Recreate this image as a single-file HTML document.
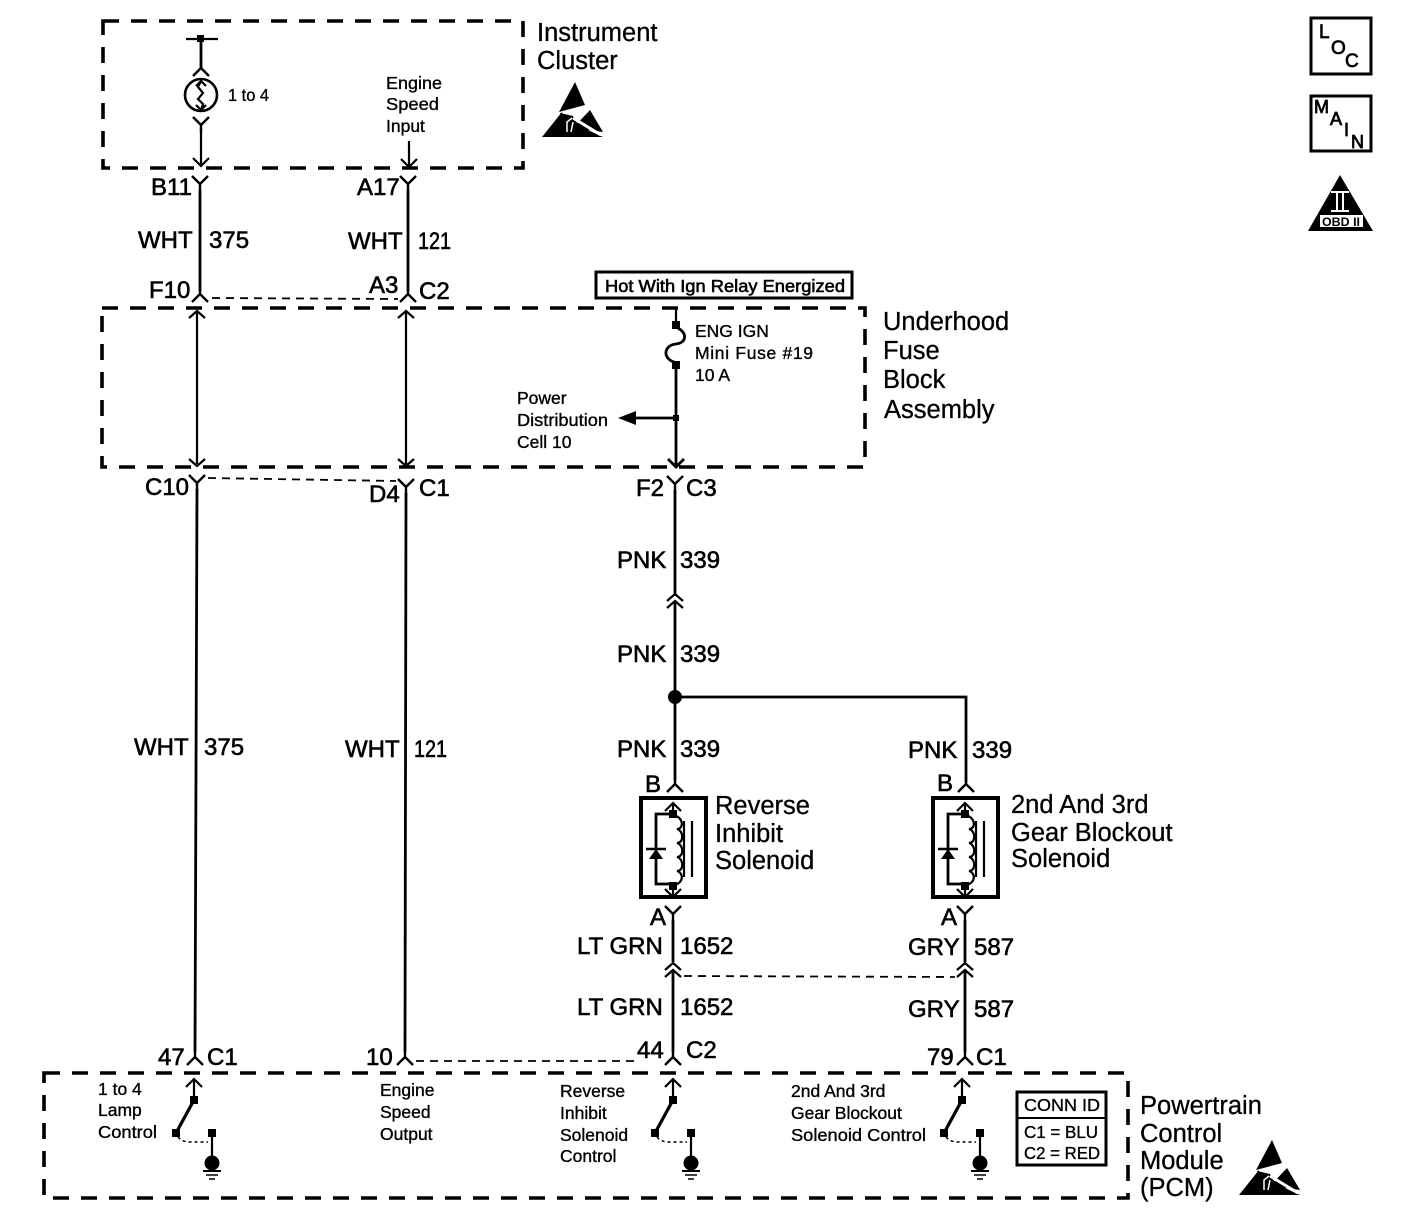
<!DOCTYPE html>
<html><head><meta charset="utf-8"><title>Diagram</title>
<style>
html,body{margin:0;padding:0;background:#fff}
svg{display:block}
text{font-family:"Liberation Sans",sans-serif;fill:#000}
.l{font-size:24px;stroke:#000;stroke-width:.6}
.b{font-size:25.5px;stroke:#000;stroke-width:.3}
.s{font-size:17.5px;stroke:#000;stroke-width:.35}
.w{fill:none;stroke:#000;stroke-width:2.8}
.t{fill:none;stroke:#000;stroke-width:2.2}
.d{fill:none;stroke:#000;stroke-width:3.6;stroke-dasharray:16 12}
.h{fill:none;stroke:#000;stroke-width:1.8;stroke-dasharray:8 6}
</style></head><body>
<svg xmlns="http://www.w3.org/2000/svg" width="1408" height="1216" viewBox="0 0 1408 1216">
<defs>
<path id="y" d="M-8-8 0 0 8-8M0 0V8" fill="none" stroke="#000" stroke-width="2.4"/>
<path id="c" d="M-8 6 0-2 8 6M0-2V-8" fill="none" stroke="#000" stroke-width="2.4"/>
<g id="esd">
<path d="M575 82 585 105 559 112Z"/>
<path d="M542 137 562 112 566 137Z"/>
<path d="M590 110 603 132 573 128Z"/>
<path d="M566 137 560 113 573 116 579 126 603 137Z"/>
<path d="M573 118 601 135" stroke="#fff" stroke-width="3" fill="none"/>
<path d="M567 132V122L572 118M571 132 573 122" stroke="#fff" stroke-width="1.5" fill="none"/>
</g>
<g id="sw">
<path d="M194 1100V1080M186 1087 194 1079 202 1087" class="t"/>
<path d="M194 1100 176 1133" fill="none" stroke="#000" stroke-width="3.2"/>
<rect x="190" y="1096" width="8" height="8"/>
<rect x="172" y="1129" width="8" height="8"/>
<rect x="208" y="1129" width="8" height="8"/>
<path d="M178 1137Q182 1142 190 1142H208" fill="none" stroke="#000" stroke-width="1.5" stroke-dasharray="3 3"/>
<path d="M212 1136V1160" class="t"/>
<circle cx="212" cy="1163" r="7.5"/>
<path d="M203 1171H221" stroke="#000" stroke-width="2"/>
<path d="M206 1175H218" stroke="#000" stroke-width="1.5"/>
<path d="M209 1179H215" stroke="#000" stroke-width="1.5"/>
</g>
<g id="sol">
<rect x="641" y="798" width="65" height="99" fill="none" stroke="#000" stroke-width="4"/>
<path d="M673 815V804M665 811 673 803 681 811M673 885V896M665 889 673 897 681 889" class="t"/>
<rect x="669" y="810" width="8" height="8"/>
<rect x="669" y="882" width="8" height="8"/>
<path d="M673 814H656V884H673" class="w"/>
<path d="M646 849H666" stroke="#000" stroke-width="2.4"/>
<path d="M656 849 649 859H663Z"/>
<path d="M673 815C684 817 684 829 677 829 684 831 684 843 677 843 684 845 684 857 677 857 684 859 684 871 677 871 684 873 684 884 673 885" class="t"/>
<path d="M684 821V877M692 821V877" class="t"/>
</g>
</defs>

<!-- dashed boxes -->
<rect class="d" x="103" y="21" width="420" height="147"/>
<rect class="d" x="102" y="308" width="763" height="159"/>
<rect class="d" x="44" y="1073" width="1084" height="125"/>

<!-- instrument cluster content -->
<path class="t" d="M186 39H218"/>
<rect x="197" y="35" width="7" height="7"/>
<path class="w" d="M201 39V68"/>
<use href="#c" x="201" y="70"/>
<circle cx="201" cy="95" r="16" fill="none" stroke="#000" stroke-width="2.6"/>
<path class="t" d="M201 81 198 87 203 93 198 99 203 104 201 110M196 86 201 81 206 86M196 105 201 110 206 105"/>
<use href="#y" x="201" y="125"/>
<path class="t" d="M201 128V166M193 158 201 166 209 158"/>
<path class="t" d="M409 141V167M401 159 409 167 417 159"/>
<use href="#y" x="200" y="184"/>
<use href="#y" x="408" y="184"/>
<path class="w" d="M200 190V291M408 190V291"/>
<use href="#c" x="200" y="296"/>
<use href="#c" x="408" y="296"/>
<path class="h" d="M212 298 398 299"/>

<!-- underhood wires -->
<path class="t" d="M197 312V464M189 318 197 311 205 318M189 459 197 466 205 459"/>
<path class="t" d="M406 312V464M398 318 406 311 414 318M398 459 406 466 414 459"/>
<use href="#y" x="197" y="483"/>
<use href="#y" x="406" y="487"/>
<path class="h" d="M208 478 396 481"/>
<path class="w" d="M197 489 195 1052M406 493 405 1052"/>
<use href="#c" x="195" y="1059"/>
<use href="#c" x="405" y="1059"/>
<path class="h" d="M416 1061H636"/>

<!-- fuse & power -->
<path class="t" d="M676 308V322"/>
<rect x="672" y="321" width="8" height="8"/>
<path d="M678 328C688 334 686 343 676 344 664 345 662 358 674 362" fill="none" stroke="#000" stroke-width="2.8"/>
<rect x="672" y="361" width="8" height="8"/>
<path class="w" d="M676 368V465M668 459 676 467 684 459"/>
<rect x="673" y="415" width="6" height="6"/>
<path class="w" d="M676 418H632"/>
<path d="M618 418 636 411V425Z"/>
<use href="#y" x="675" y="484"/>
<path class="w" d="M675 490V596"/>
<path class="t" d="M667 601 675 594 683 601M667 608 675 601 683 608"/>
<path class="w" d="M675 602V780"/>
<circle cx="675" cy="697" r="7"/>
<path class="w" d="M675 697H966V782"/>
<use href="#c" x="675" y="786"/>
<use href="#c" x="966" y="786"/>
<use href="#sol"/>
<use href="#sol" x="292"/>
<use href="#y" x="673" y="914"/>
<use href="#y" x="965" y="914"/>
<path class="w" d="M673 920V962M965 920V962"/>
<path class="t" d="M665 970 673 963 681 970M665 977 673 970 681 977M957 970 965 963 973 970M957 977 965 970 973 977"/>
<path class="h" d="M684 976 955 977"/>
<path class="w" d="M673 971V1052M965 971V1052"/>
<use href="#c" x="673" y="1059"/>
<use href="#c" x="965" y="1059"/>

<!-- switches -->
<use href="#sw"/>
<use href="#sw" x="479"/>
<use href="#sw" x="768"/>

<!-- ESD -->
<use href="#esd"/>
<use href="#esd" x="697" y="1058"/>

<!-- hot box -->
<rect x="596" y="272" width="256" height="26" fill="#fff" stroke="#000" stroke-width="3"/>
<text class="s" x="605" y="292" textLength="240" lengthAdjust="spacingAndGlyphs" style="stroke-width:.6">Hot With Ign Relay Energized</text>

<!-- top right icons -->
<rect x="1311" y="18" width="60" height="56" fill="none" stroke="#000" stroke-width="3"/>
<text x="1319" y="38" style="font-size:19px;stroke:#000;stroke-width:.7">L</text>
<text x="1331" y="54" style="font-size:19px;stroke:#000;stroke-width:.7">O</text>
<text x="1345" y="67" style="font-size:19px;stroke:#000;stroke-width:.7">C</text>
<rect x="1311" y="96" width="60" height="55" fill="none" stroke="#000" stroke-width="3"/>
<text x="1314" y="113" style="font-size:18px;stroke:#000;stroke-width:.8">M</text>
<text x="1330" y="125" style="font-size:18px;stroke:#000;stroke-width:.8">A</text>
<text x="1344" y="136" style="font-size:18px;stroke:#000;stroke-width:.8">I</text>
<text x="1351" y="148" style="font-size:18px;stroke:#000;stroke-width:.8">N</text>
<path d="M1340 175 1373 231H1308Z"/>
<path d="M1331 192H1349M1331 211H1349" stroke="#fff" stroke-width="2"/>
<path d="M1337 192V211M1343 192V211" stroke="#fff" stroke-width="2"/>
<rect x="1320" y="215" width="43" height="12" fill="#fff"/>
<text x="1322" y="226" textLength="38" lengthAdjust="spacingAndGlyphs" style="font-size:12px;font-weight:bold">OBD II</text>

<!-- large wire labels -->
<g class="l">
<text class="l" x="151" y="195">B11</text>
<text class="l" x="138" y="248">WHT</text><text class="l" x="209" y="248">375</text>
<text class="l" x="357" y="195">A17</text>
<text class="l" x="348" y="249">WHT</text><text class="l" x="418" y="249" textLength="33" lengthAdjust="spacingAndGlyphs">121</text>
<text class="l" x="149" y="298">F10</text>
<text class="l" x="369" y="293">A3</text><text class="l" x="419" y="299">C2</text>
<text class="l" x="145" y="495">C10</text>
<text class="l" x="369" y="502">D4</text><text class="l" x="419" y="496">C1</text>
<text class="l" x="636" y="496">F2</text><text class="l" x="686" y="496">C3</text>
<text class="l" x="617" y="568">PNK</text><text class="l" x="680" y="568">339</text>
<text class="l" x="617" y="662">PNK</text><text class="l" x="680" y="662">339</text>
<text class="l" x="617" y="757">PNK</text><text class="l" x="680" y="757">339</text>
<text class="l" x="908" y="758">PNK</text><text class="l" x="972" y="758">339</text>
<text class="l" x="134" y="755">WHT</text><text class="l" x="204" y="755">375</text>
<text class="l" x="345" y="757">WHT</text><text class="l" x="414" y="757" textLength="33" lengthAdjust="spacingAndGlyphs">121</text>
<text class="l" x="645" y="792">B</text><text class="l" x="937" y="791">B</text>
<text class="l" x="650" y="925">A</text><text class="l" x="941" y="925">A</text>
<text class="l" x="577" y="954">LT GRN</text><text class="l" x="680" y="954">1652</text>
<text class="l" x="577" y="1015">LT GRN</text><text class="l" x="680" y="1015">1652</text>
<text class="l" x="908" y="955">GRY</text><text class="l" x="974" y="955">587</text>
<text class="l" x="908" y="1017">GRY</text><text class="l" x="974" y="1017">587</text>
<text class="l" x="158" y="1065">47</text><text class="l" x="207" y="1065">C1</text>
<text class="l" x="366" y="1065">10</text>
<text class="l" x="637" y="1058">44</text><text class="l" x="686" y="1058">C2</text>
<text class="l" x="927" y="1065">79</text><text class="l" x="976" y="1065">C1</text>
</g>

<!-- component names -->
<text class="b" x="537" y="41">Instrument</text>
<text class="b" x="537" y="69">Cluster</text>
<text class="b" x="883" y="330">Underhood</text>
<text class="b" x="883" y="359">Fuse</text>
<text class="b" x="883" y="388">Block</text>
<text class="b" x="884" y="418">Assembly</text>
<text class="b" x="715" y="814">Reverse</text>
<text class="b" x="715" y="842">Inhibit</text>
<text class="b" x="715" y="869">Solenoid</text>
<text class="b" x="1011" y="813">2nd And 3rd</text>
<text class="b" x="1011" y="841">Gear Blockout</text>
<text class="b" x="1011" y="867">Solenoid</text>
<text class="b" x="1140" y="1114">Powertrain</text>
<text class="b" x="1140" y="1142">Control</text>
<text class="b" x="1140" y="1169">Module</text>
<text class="b" x="1140" y="1196">(PCM)</text>

<!-- small labels -->
<text class="s" x="228" y="101" textLength="41" lengthAdjust="spacingAndGlyphs">1 to 4</text>
<text class="s" x="386" y="89" textLength="56" lengthAdjust="spacingAndGlyphs">Engine</text>
<text class="s" x="386" y="110" textLength="53" lengthAdjust="spacingAndGlyphs">Speed</text>
<text class="s" x="386" y="132">Input</text>
<text class="s" x="695" y="337">ENG IGN</text>
<text class="s" x="695" y="359" textLength="118" lengthAdjust="spacing">Mini Fuse #19</text>
<text class="s" x="695" y="381">10 A</text>
<text class="s" x="517" y="404">Power</text>
<text class="s" x="517" y="426" textLength="91" lengthAdjust="spacingAndGlyphs">Distribution</text>
<text class="s" x="517" y="448">Cell 10</text>
<text class="s" x="98" y="1095">1 to 4</text>
<text class="s" x="98" y="1116">Lamp</text>
<text class="s" x="98" y="1138" textLength="59" lengthAdjust="spacingAndGlyphs">Control</text>
<text class="s" x="380" y="1096">Engine</text>
<text class="s" x="380" y="1118">Speed</text>
<text class="s" x="380" y="1140">Output</text>
<text class="s" x="560" y="1097">Reverse</text>
<text class="s" x="560" y="1119">Inhibit</text>
<text class="s" x="560" y="1141">Solenoid</text>
<text class="s" x="560" y="1162">Control</text>
<text class="s" x="791" y="1097">2nd And 3rd</text>
<text class="s" x="791" y="1119">Gear Blockout</text>
<text class="s" x="791" y="1141" textLength="135" lengthAdjust="spacingAndGlyphs">Solenoid Control</text>

<!-- conn id -->
<rect x="1017" y="1092" width="89" height="73" fill="none" stroke="#000" stroke-width="3"/>
<path d="M1017 1118H1106" stroke="#000" stroke-width="2"/>
<text class="s" x="1024" y="1111" textLength="76" lengthAdjust="spacingAndGlyphs">CONN ID</text>
<text class="s" x="1024" y="1138" textLength="74" lengthAdjust="spacingAndGlyphs">C1 = BLU</text>
<text class="s" x="1024" y="1159" textLength="76" lengthAdjust="spacingAndGlyphs">C2 = RED</text>
</svg>
</body></html>
